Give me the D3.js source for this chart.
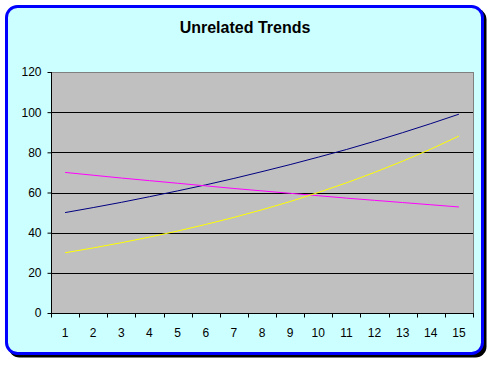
<!doctype html>
<html>
<head>
    <meta charset="utf-8"/>
    <style>
        html, body {
            margin: 0;
            padding: 0;
            background: #fff;
        }
        svg {
            display: block;
            font-family: "Liberation Sans", Arial, sans-serif;
        }
        .axis text {
            font-size: 12px;
            fill: #000;
        }
    </style>
    <script src="https://d3js.org/d3.v7.min.js"></script>
</head>
<body>
<svg width="494" height="365"></svg>
<script>

    // Chart data
    var categories = [1, 2, 3, 4, 5, 6, 7, 8, 9, 10, 11, 12, 13, 14, 15];
    var navyValues = [50, 52.5, 55.1, 57.9, 60.8, 63.8, 67.0, 70.4, 73.9, 77.6, 81.4, 85.5, 89.8, 94.3, 99.0];
    var magentaValues = [70, 68.6, 67.2, 65.9, 64.6, 63.3, 62.0, 60.8, 59.6, 58.4, 57.2, 56.1, 55.0, 53.9, 52.8];
    var yellowValues = [30, 32.4, 35.0, 37.8, 40.8, 44.1, 47.6, 51.4, 55.5, 60.0, 64.8, 70.0, 75.6, 81.6, 88.1];
    var yTicks = [0, 20, 40, 60, 80, 100, 120];

    var series = [
        {name: "navy", color: "#000080", values: navyValues},
        {name: "magenta", color: "#FF00FF", values: magentaValues},
        {name: "yellow", color: "#FFFF00", values: yellowValues}
    ];

    var svg = d3.select("svg");

    var plot = {left: 51, top: 72, right: 473, bottom: 313};

    // Chart area: shadow, then cyan box with blue rounded border
    svg.append("rect")
        .attr("x", 8.5).attr("y", 8.5)
        .attr("width", 478).attr("height", 349)
        .attr("rx", 11).attr("ry", 11)
        .attr("fill", "#000");

    svg.append("rect")
        .attr("x", 6.5).attr("y", 6.5)
        .attr("width", 476).attr("height", 347)
        .attr("rx", 11).attr("ry", 11)
        .attr("fill", "#CCFFFF")
        .attr("stroke", "#0000FF")
        .attr("stroke-width", 3);

    svg.append("text")
        .attr("x", 245)
        .attr("y", 33)
        .attr("text-anchor", "middle")
        .attr("font-size", "16px")
        .attr("font-weight", "bold")
        .text("Unrelated Trends");

    var x = d3.scaleBand()
        .domain(categories)
        .range([plot.left, plot.right]);

    var y = d3.scaleLinear()
        .domain([0, 120])
        .range([plot.bottom, plot.top]);

    // Plot area
    svg.append("rect")
        .attr("x", plot.left).attr("y", plot.top)
        .attr("width", plot.right - plot.left)
        .attr("height", plot.bottom - plot.top)
        .attr("fill", "#C0C0C0")
        .attr("stroke", "#808080")
        .attr("shape-rendering", "crispEdges");

    // Gridlines
    svg.append("g")
        .selectAll("line")
        .data(yTicks.filter(function(d) { return d > 0 && d < 120; }))
        .enter().append("line")
        .attr("x1", plot.left).attr("x2", plot.right)
        .attr("y1", function(d) { return Math.round(y(d)) + 0.5; })
        .attr("y2", function(d) { return Math.round(y(d)) + 0.5; })
        .attr("stroke", "#000");

    // Y axis
    var yAxis = svg.append("g")
        .attr("class", "axis")
        .attr("transform", "translate(" + (plot.left + 0.5) + ",0)")
        .call(d3.axisLeft(y).tickValues(yTicks).tickSize(4).tickPadding(6));
    yAxis.selectAll("path, line").attr("stroke", "#000");
    yAxis.select(".domain").attr("d", "M0," + plot.top + "V" + (plot.bottom + 0.5));

    // X axis: ticks between categories, labels at centres
    var xAxis = svg.append("g")
        .attr("class", "axis")
        .attr("transform", "translate(0," + (plot.bottom + 0.5) + ")");

    xAxis.append("line")
        .attr("x1", plot.left).attr("x2", plot.right + 1)
        .attr("stroke", "#000");

    var boundaries = categories.map(function(d) { return x(d); }).concat([plot.right]);
    xAxis.selectAll(".tick-mark")
        .data(boundaries)
        .enter().append("line")
        .attr("class", "tick-mark")
        .attr("x1", function(d) { return Math.round(d) + 0.5; })
        .attr("x2", function(d) { return Math.round(d) + 0.5; })
        .attr("y1", 0).attr("y2", 4)
        .attr("stroke", "#000");

    xAxis.selectAll(".label")
        .data(categories)
        .enter().append("text")
        .attr("class", "label")
        .attr("x", function(d) { return x(d) + x.bandwidth() / 2; })
        .attr("y", 23.5)
        .attr("text-anchor", "middle")
        .text(function(d) { return d; });

    // Lines
    var line = d3.line()
        .x(function(d, i) { return x(categories[i]) + x.bandwidth() / 2; })
        .y(function(d) { return y(d); });

    svg.append("g")
        .selectAll("path")
        .data(series)
        .enter().append("path")
        .attr("d", function(d) { return line(d.values); })
        .attr("fill", "none")
        .attr("stroke", function(d) { return d.color; })
        .attr("stroke-width", 1);

</script>
</body>
</html>
